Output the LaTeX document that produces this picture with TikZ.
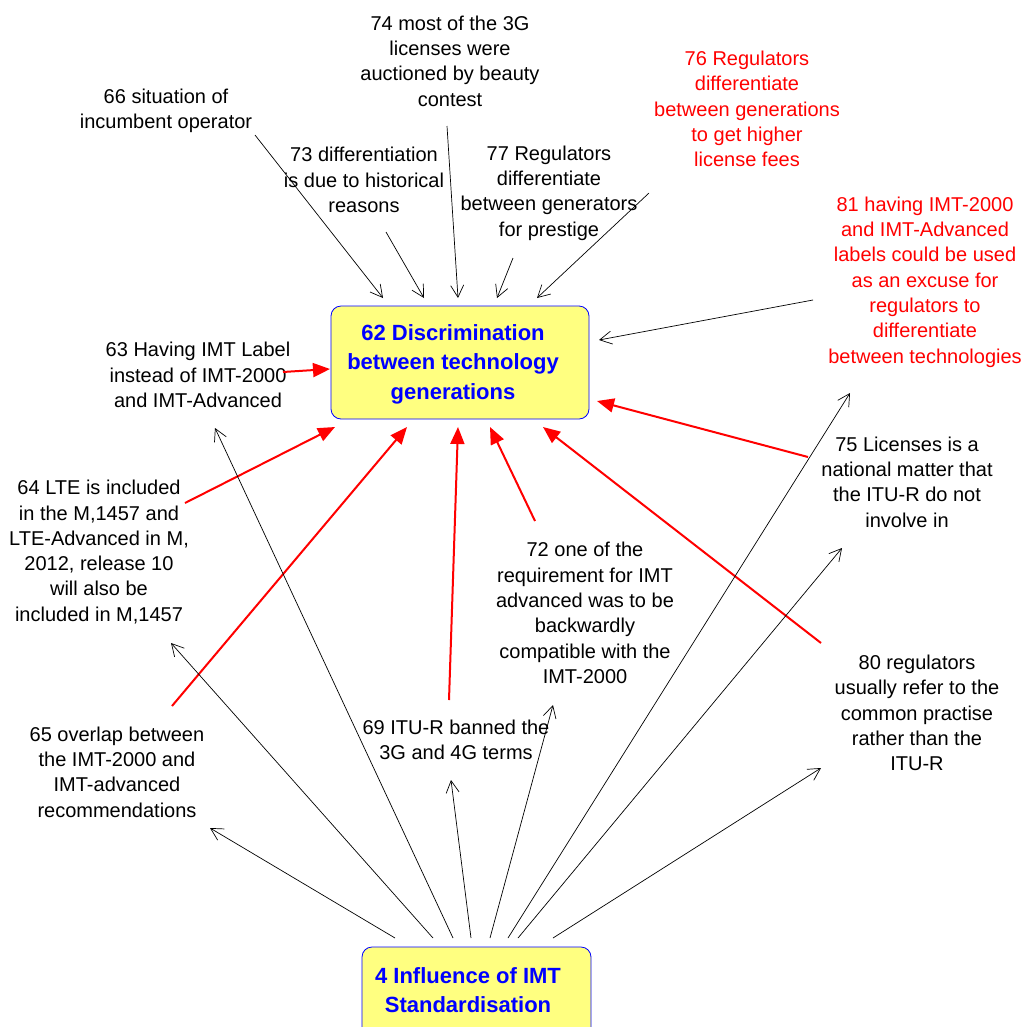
\documentclass[tikz,border=0pt]{standalone}
\usepackage{fontspec}
\setmainfont{Liberation Sans}
\usetikzlibrary{arrows.meta,calc}
\definecolor{boxfill}{RGB}{255,255,128}
\definecolor{txtblue}{RGB}{0,0,255}
\definecolor{arred}{RGB}{255,0,0}
\begin{document}
\begin{tikzpicture}[x=1pt,y=-1pt,
  lbl/.style={align=center, font=\fontsize{20}{25.3}\selectfont, inner sep=0pt, text=black},
  redlbl/.style={lbl, text=arred},
  mainbox/.style={draw=txtblue, line width=0.8pt, fill=boxfill, rounded corners=10pt, inner sep=0pt},
  boxtxt/.style={align=center, font=\fontsize{22}{29.5}\selectfont\bfseries, text=txtblue, inner sep=0pt},
  blk/.style={draw=black, line width=0.7pt, -{Straight Barb[length=12pt,width=13pt]}},
  redarr/.style={draw=arred, line width=2pt, -{Triangle[length=17pt,width=14pt]}},
]
\useasboundingbox (0,0) rectangle (1028,1026);
\clip (0,0) rectangle (1028,1026);
\fill[white] (0,0) rectangle (1028,1026);

% boxes
\node[mainbox, minimum width=258pt, minimum height=113pt] (m62) at (460,362.5) {};
\node[boxtxt] (t62) at (453,364) {62 Discrimination\\between technology\\generations};
\node[mainbox, minimum width=229pt, minimum height=90pt] (m4) at (476.5,992) {};
\node[boxtxt] (t4) at (468,990) {4 Influence of IMT\\Standardisation};

% labels
\node[lbl] (n66) at (166,111) {66 situation of\\incumbent operator};
\node[lbl] (n74) at (450,61) {74 most of the 3G\\licenses were\\auctioned by beauty\\contest};
\node[lbl] (n73) at (364,180) {73 differentiation\\is due to historical\\reasons};
\node[lbl] (n77) at (549,193) {77 Regulators\\differentiate\\between generators\\for prestige};
\node[redlbl] (n76) at (747,109) {76 Regulators\\differentiate\\between generations\\to get higher\\license fees};
\node[redlbl] (n81) at (925,282) {81 having IMT-2000\\and IMT-Advanced\\labels could be used\\as an excuse for\\regulators to\\differentiate\\between technologies};
\node[lbl] (n63) at (198,375) {63 Having IMT Label\\instead of IMT-2000\\and IMT-Advanced};
\node[lbl] (n64) at (99,552) {64 LTE is included\\in the M,1457 and\\LTE-Advanced in M,\\2012, release 10\\will also be\\included in M,1457};
\node[lbl] (n65) at (117,772) {65 overlap between\\the IMT-2000 and\\IMT-advanced\\recommendations};
\node[lbl] (n69) at (456,740) {69 ITU-R banned the\\3G and 4G terms};
\node[lbl] (n72) at (585,613) {72 one of the\\requirement for IMT\\advanced was to be\\backwardly\\compatible with the\\IMT-2000};
\node[lbl] (n75) at (907,482) {75 Licenses is a\\national matter that\\the ITU-R do not\\involve in};
\node[lbl] (n80) at (917,713) {80 regulators\\usually refer to the\\common practise\\rather than the\\ITU-R};

% black arrows into 62
\draw[blk] ($(n66)+(89,24)$) -- ($(m62)+(-77,-64.5)$);
\draw[blk] ($(n73)+(22,52)$) -- ($(m62)+(-36,-64.5)$);
\draw[blk] ($(n74)+(-3,65)$) -- ($(m62)+(-2,-64.5)$);
\draw[blk] ($(n77)+(-36,65)$) -- ($(m62)+(37,-64.5)$);
\draw[blk] ($(n76)+(-98,84)$) -- ($(m62)+(77,-64.5)$);
\draw[blk] ($(n81)+(-112,18)$) -- ($(m62)+(139,-22.5)$);

% red arrows into 62
\draw[redarr] ($(n63)+(85,-3)$) -- ($(m62)+(-130,6.5)$);
\draw[redarr] ($(n64)+(86,-49)$) -- ($(m62)+(-125,64.5)$);
\draw[redarr] ($(n65)+(55,-66)$) -- ($(m62)+(-53,64.5)$);
\draw[redarr] ($(n69)+(-7,-40)$) -- ($(m62)+(-2,64.5)$);
\draw[redarr] ($(n72)+(-50,-92)$) -- ($(m62)+(30,64.5)$);
\draw[redarr] ($(n80)+(-96,-70)$) -- ($(m62)+(83,64.5)$);
\draw[redarr] ($(n75)+(-99,-25)$) -- ($(m62)+(137,38.5)$);

% black arrows from 4
\draw[blk] ($(m4)+(-81.5,-54)$) -- ($(n65)+(93,56)$);
\draw[blk] ($(m4)+(-43.5,-54)$) -- ($(n64)+(72,91)$);
\draw[blk] ($(m4)+(-23.5,-54)$) -- ($(n63)+(17,53)$);
\draw[blk] ($(m4)+(-5.5,-54)$) -- ($(n69)+(-5,40)$);
\draw[blk] ($(m4)+(13.5,-54)$) -- ($(n72)+(-32,92)$);
\draw[blk] ($(m4)+(31.5,-54)$) -- ($(n81)+(-75,111)$);
\draw[blk] ($(m4)+(41.5,-54)$) -- ($(n75)+(-65,66)$);
\draw[blk] ($(m4)+(76.5,-54)$) -- ($(n80)+(-96,55)$);
\end{tikzpicture}
\end{document}
